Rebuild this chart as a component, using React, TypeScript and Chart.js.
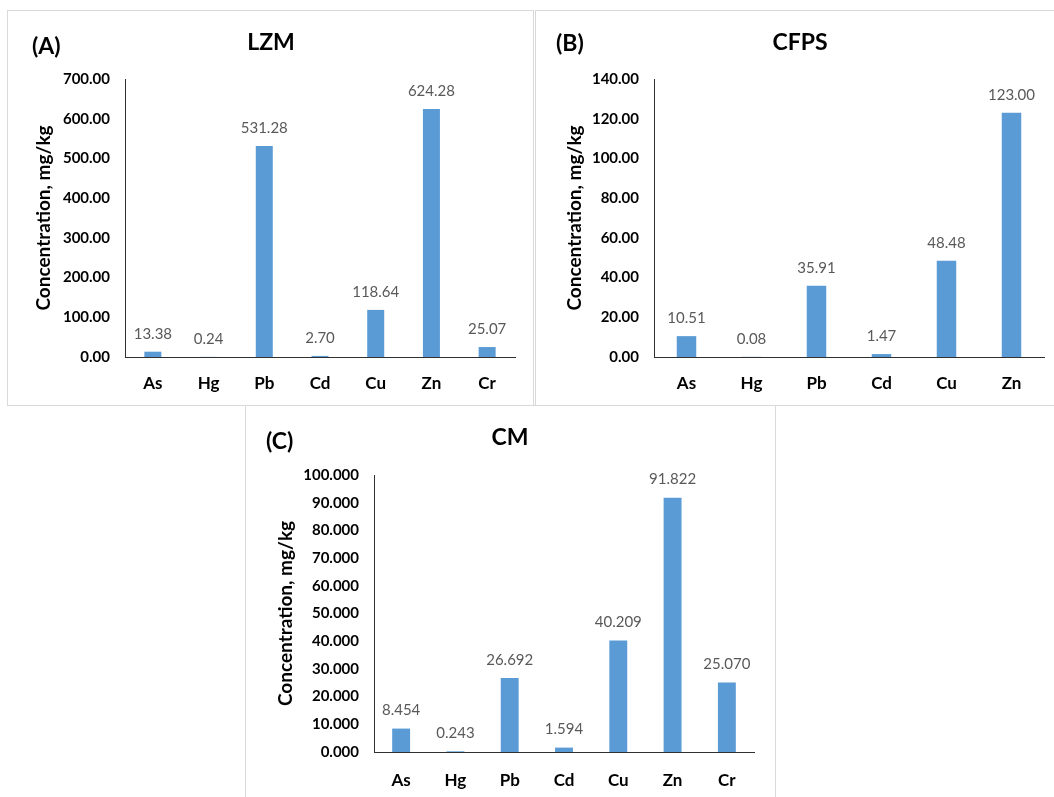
import React, { useEffect, useRef } from 'react';
import { Chart, registerables } from 'chart.js';

Chart.register(...registerables);

// ---------- data ----------
const ELEMENTS_LZM = ['As', 'Hg', 'Pb', 'Cd', 'Cu', 'Zn', 'Cr'];
const LZM_VALUES = [13.38, 0.24, 531.28, 2.7, 118.64, 624.28, 25.07];

const ELEMENTS_CFPS = ['As', 'Hg', 'Pb', 'Cd', 'Cu', 'Zn'];
const CFPS_VALUES = [10.51, 0.08, 35.91, 1.47, 48.48, 123.0];

const ELEMENTS_CM = ['As', 'Hg', 'Pb', 'Cd', 'Cu', 'Zn', 'Cr'];
const CM_VALUES = [8.454, 0.243, 26.692, 1.594, 40.209, 91.822, 25.07];

const LZM_AXIS = [0, 700, 100];
const CFPS_AXIS = [0, 140, 20];
const CM_AXIS = [0, 100, 10];

const LZM_DECIMALS = 2;
const CFPS_DECIMALS = 2;
const CM_DECIMALS = 3;

const Y_TITLE = 'Concentration, mg/kg';

// ---------- styles ----------
const FONT = 'Lato, "Open Sans", "DejaVu Sans", sans-serif';
const BAR_COLOR = '#5b9bd5';
const AXIS_COLOR = '#303030';
const PANEL_BORDER = '#d9d9d9';

const valueLabels = {
  id: 'valueLabels',
  afterDatasetsDraw(chart: any, _args: any, opts: any) {
    const { ctx } = chart;
    const meta = chart.getDatasetMeta(0);
    const data = chart.data.datasets[0].data as number[];
    ctx.save();
    ctx.font = `400 15px ${FONT}`;
    ctx.fillStyle = '#595959';
    ctx.textAlign = 'center';
    ctx.textBaseline = 'middle';
    meta.data.forEach((el: any, i: number) => {
      ctx.fillText(Number(data[i]).toFixed(opts.decimals), el.x, el.y - 18);
    });
    ctx.restore();
  },
};

type PanelProps = {
  labels: string[];
  values: number[];
  axis: number[];
  decimals: number;
  left: number;
  top: number;
  width: number;
  height: number;
  axisWidth: number;
  padTop: number;
  padRight: number;
  xHeight: number;
  xTickPad: number;
  titlePad: number;
  barPct: number;
};

function BarPanel(p: PanelProps) {
  const ref = useRef<HTMLCanvasElement | null>(null);
  useEffect(() => {
    if (!ref.current) return;
    const chart = new Chart(ref.current, {
      type: 'bar',
      data: {
        labels: p.labels,
        datasets: [
          {
            data: p.values,
            backgroundColor: BAR_COLOR,
            borderWidth: 0,
            categoryPercentage: 1,
            barPercentage: p.barPct,
          },
        ],
      },
      options: {
        responsive: false,
        animation: false,
        events: [],
        layout: { padding: { top: p.padTop, right: p.padRight, left: 0, bottom: 0 } },
        plugins: {
          legend: { display: false },
          tooltip: { enabled: false },
          title: { display: false },
          valueLabels: { decimals: p.decimals },
        } as any,
        scales: {
          x: {
            grid: { display: false, drawTicks: false },
            border: { display: true, color: AXIS_COLOR, width: 1 },
            ticks: {
              padding: p.xTickPad,
              color: '#000',
              font: { family: FONT, size: 17, weight: 'bold' },
            },
            afterFit: (s: any) => {
              s.height = p.xHeight;
            },
          },
          y: {
            min: p.axis[0],
            max: p.axis[1],
            grid: { display: false, drawTicks: false },
            border: { display: true, color: AXIS_COLOR, width: 1 },
            ticks: {
              stepSize: p.axis[2],
              padding: 15,
              color: '#000',
              font: { family: FONT, size: 15, weight: 'bold' },
              callback: (v: any) => Number(v).toFixed(p.decimals),
            },
            title: {
              display: true,
              text: Y_TITLE,
              color: '#000',
              font: { family: FONT, size: 19, weight: 'bold' },
              padding: { top: p.titlePad, bottom: 0 },
            },
            afterFit: (s: any) => {
              s.width = p.axisWidth;
            },
          },
        },
      },
      plugins: [valueLabels as any],
    });
    return () => chart.destroy();
  }, []);
  return (
    <canvas
      ref={ref}
      width={p.width}
      height={p.height}
      style={{ position: 'absolute', left: p.left, top: p.top, width: p.width, height: p.height }}
    />
  );
}

const textStyle: React.CSSProperties = {
  position: 'absolute',
  fontFamily: FONT,
  fontWeight: 700,
  fontSize: 23,
  lineHeight: '23px',
  color: '#000',
  whiteSpace: 'nowrap',
};

function Box(props: { left: number; top: number; width: number; height: number }) {
  return (
    <div
      style={{
        position: 'absolute',
        left: props.left,
        top: props.top,
        width: props.width,
        height: props.height,
        border: `1px solid ${PANEL_BORDER}`,
        boxSizing: 'border-box',
        background: '#fff',
      }}
    />
  );
}

export default function App() {
  return (
    <div
      style={{
        position: 'absolute',
        left: 0,
        top: 0,
        width: 1054,
        height: 797,
        overflow: 'hidden',
        background: '#fff',
      }}
    >
      <Box left={7} top={10} width={527} height={396} />
      <Box left={535} top={10} width={530} height={396} />
      <Box left={245} top={405} width={531} height={400} />

      <BarPanel
        labels={ELEMENTS_LZM}
        values={LZM_VALUES}
        axis={LZM_AXIS}
        decimals={LZM_DECIMALS}
        left={8}
        top={11}
        width={525}
        height={394}
        axisWidth={117}
        padTop={68}
        padRight={18}
        xHeight={48}
        xTickPad={16}
        titlePad={24}
        barPct={0.305}
      />
      <BarPanel
        labels={ELEMENTS_CFPS}
        values={CFPS_VALUES}
        axis={CFPS_AXIS}
        decimals={CFPS_DECIMALS}
        left={536}
        top={11}
        width={518}
        height={394}
        axisWidth={118}
        padTop={68}
        padRight={10}
        xHeight={48}
        xTickPad={16}
        titlePad={27}
        barPct={0.3}
      />
      <BarPanel
        labels={ELEMENTS_CM}
        values={CM_VALUES}
        axis={CM_AXIS}
        decimals={CM_DECIMALS}
        left={246}
        top={406}
        width={529}
        height={391}
        axisWidth={128}
        padTop={69}
        padRight={21}
        xHeight={45}
        xTickPad={18}
        titlePad={28}
        barPct={0.33}
      />

      <div style={{ ...textStyle, left: 32, top: 34 }}>(A)</div>
      <div style={{ ...textStyle, left: 271, top: 30, transform: 'translateX(-50%)' }}>LZM</div>
      <div style={{ ...textStyle, left: 556, top: 31 }}>(B)</div>
      <div style={{ ...textStyle, left: 800, top: 30, transform: 'translateX(-50%)' }}>CFPS</div>
      <div style={{ ...textStyle, left: 266, top: 429 }}>(C)</div>
      <div style={{ ...textStyle, left: 510, top: 425, transform: 'translateX(-50%)' }}>CM</div>
    </div>
  );
}
